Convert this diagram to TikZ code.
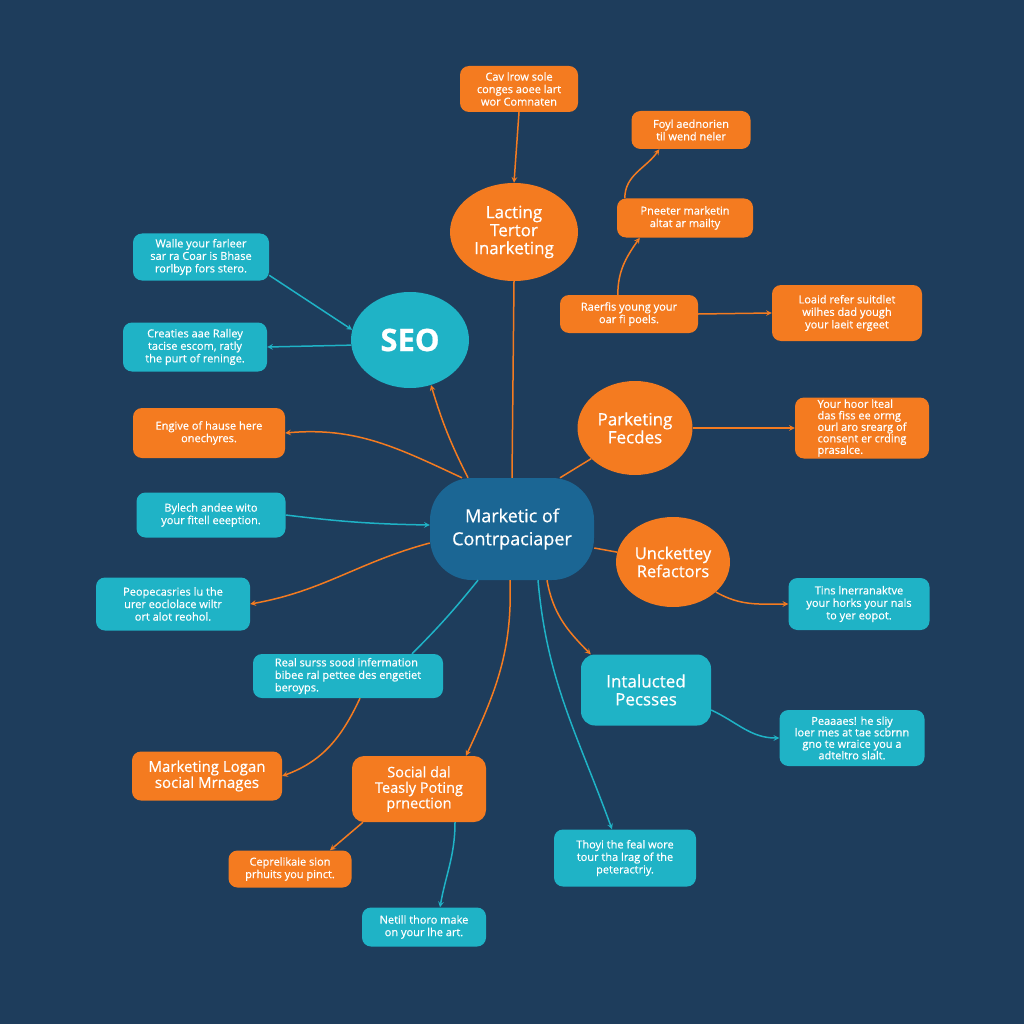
\documentclass[tikz,border=0pt]{standalone}
\usepackage{fontspec}
\setmainfont{Open Sans}[FakeBold=0.6]
\usetikzlibrary{shapes.geometric}

\definecolor{bgnavy}{RGB}{30,61,92}
\definecolor{morange}{RGB}{244,123,32}
\definecolor{mteal}{RGB}{31,179,198}
\definecolor{mhub}{RGB}{27,102,148}

\begin{document}
\begin{tikzpicture}[x=1pt, y=-1pt,
    obox/.style={rectangle, fill=morange, text=white, rounded corners=9pt, align=center, inner sep=2pt, font=\fontsize{11}{12.5}\selectfont},
    tbox/.style={obox, fill=mteal},
    oell/.style={ellipse, fill=morange, text=white, align=center, inner sep=0pt, font=\fontsize{17}{18}\selectfont},
    tell/.style={oell, fill=mteal},
    hubnode/.style={rectangle, rounded corners=42pt, fill=mhub, text=white, align=center, font=\fontsize{18}{23}\selectfont},
    oarrow/.style={->, >=stealth, line width=1.5pt, draw=morange},
    tarrow/.style={oarrow, draw=mteal},
    oline/.style={line width=1.5pt, draw=morange},
    tline/.style={oline, draw=mteal},
]
\fill[bgnavy] (0,0) rectangle (1024,1024);

% hub
\node[hubnode, minimum width=164pt, minimum height=102pt] (ctr) at (512,529) {Marketic of\\Contrpaciaper};

% top branch
\node[obox, minimum width=118pt, minimum height=46pt] (cav) at (519,89) {Cav lrow sole\\conges aoee lart\\wor Comnaten};
\node[oell, minimum width=128pt, minimum height=98pt] (lact) at (514,232) {Lacting\\Tertor\\Inarketing};
\node[obox, minimum width=119pt, minimum height=38pt] (foyl) at (691,130) {Foyl aednorien\\til wend neler};
\node[obox, minimum width=136pt, minimum height=39pt] (pneeter) at (685,218) {Pneeter marketin\\altat ar mailty};
\node[obox, minimum width=138pt, minimum height=38pt] (raerfis) at (629,314) {Raerfis young your\\oar fi poels.};
\node[obox, minimum width=150pt, minimum height=56pt] (loaid) at (847,313) {Loaid refer suitdlet\\wilhes dad yough\\your laeit ergeet};

% left branch
\node[tell, minimum width=118pt, minimum height=96pt, font=\fontsize{31}{33}\bfseries] (seo) at (410,340) {SEO};
\node[tbox, minimum width=136pt, minimum height=47pt] (walle) at (201,257) {Walle your farleer\\sar ra Coar is Bhase\\rorlbyp fors stero.};
\node[tbox, minimum width=144pt, minimum height=49pt] (crea) at (195,347) {Creaties aae Ralley\\tacise escom, ratly\\the purt of reninge.};
\node[obox, minimum width=152pt, minimum height=50pt] (engive) at (209,433) {Engive of hause here\\onechyres.};
\node[tbox, minimum width=149pt, minimum height=45pt] (bylech) at (211,515) {Bylech andee wito\\your fitell eeeption.};
\node[tbox, minimum width=154pt, minimum height=53pt] (peop) at (173,604) {Peopecasries lu the\\urer eoclolace wiltr\\ort alot reohol.};

% right branch
\node[oell, minimum width=115pt, minimum height=94pt] (park) at (635,428) {Parketing\\Fecdes};
\node[obox, minimum width=134pt, minimum height=58pt, align=left, font=\fontsize{11}{11.5}\selectfont] (yourb) at (862,428) {Your hoor lteal\\das fiss ee ormg\\ourl aro srearg of\\consent er crding\\prasalce.};
\node[oell, minimum width=114pt, minimum height=90pt, font=\fontsize{16.5}{18}\selectfont] (uncke) at (673,562) {Unckettey\\Refactors};
\node[tbox, minimum width=141pt, minimum height=52pt] (tins) at (859,604) {Tins lnerranaktve\\your horks your nals\\to yer eopot.};
\node[tbox, minimum width=130pt, minimum height=71pt, rounded corners=14pt, font=\fontsize{17}{18}\selectfont] (intal) at (646,690) {Intalucted\\Pecsses};
\node[tbox, minimum width=145pt, minimum height=56pt, font=\fontsize{11}{11.5}\selectfont] (peaaa) at (852,738) {Peaaaes! he sliy\\loer mes at tae scbrnn\\gno te wraice you a\\adteltro slalt.};
\node[tbox, minimum width=142pt, minimum height=57pt] (thoyi) at (625,858) {Thoyi the feal wore\\tour tha lrag of the\\peteractriy.};

% bottom branch
\node[tbox, minimum width=190pt, minimum height=44pt, align=left] (surss) at (348,676) {Real surss sood infermation\\bibee ral pettee des engetiet\\beroyps.};
\node[obox, minimum width=150pt, minimum height=49pt, font=\fontsize{15}{16}\selectfont] (mlog) at (207,776) {Marketing Logan\\social Mrnages};
\node[obox, minimum width=134pt, minimum height=66pt, rounded corners=12pt, font=\fontsize{14.5}{15.5}\selectfont] (soc) at (419,789) {Social dal\\Teasly Poting\\prnection};
\node[obox, minimum width=123pt, minimum height=37pt] (cep) at (290,869) {Ceprelikaie sion\\prhuits you pinct.};
\node[tbox, minimum width=124pt, minimum height=39pt] (netill) at (424,927) {Netill thoro make\\on your lhe art.};

% connectors top
\draw[oarrow] (cav.south) -- (lact.north);
\draw[oline] (lact.south) -- (ctr.north);
\draw[oarrow] ([xshift=8pt]pneeter.north west) to[out=90,in=-125] ([xshift=28pt]foyl.south west);
\draw[oarrow] ([xshift=58pt]raerfis.north west) to[out=90,in=-125] ([xshift=23pt]pneeter.south west);
\draw[oarrow] (raerfis.east) -- (loaid.west);

% connectors left
\draw[tarrow] (walle.-15) -- (seo.170);
\draw[tarrow] (seo.185) -- (crea.east);
\draw[oarrow] ([xshift=-44pt]ctr.north) to[bend left=5] (seo.-65);
\draw[oarrow] ([xshift=-50pt]ctr.north) to[out=155,in=5] (engive.east);
\draw[tarrow] (bylech.east) to[bend right=3] ([yshift=4pt]ctr.west);
\draw[oarrow] ([yshift=-14pt]ctr.west) to[out=195,in=10] (peop.east);

% connectors right
\draw[oline] ([xshift=48pt]ctr.north) -- (park.215);
\draw[oarrow] (park.east) -- (yourb.west);
\draw[oline] ([yshift=-19pt]ctr.east) -- (uncke.170);
\draw[oarrow] (uncke.-35) to[out=-30,in=180] (tins.west);
\draw[oarrow] ([xshift=35pt]ctr.south) to[out=-80,in=135] ([xshift=10pt]intal.north west);
\draw[tarrow] ([yshift=-20pt]intal.east) to[out=-25,in=180] (peaaa.west);
\draw[tarrow] ([xshift=26pt]ctr.south) to[out=-85,in=110] ([xshift=-13pt]thoyi.north);

% connectors bottom
\draw[tline] ([xshift=-34pt]ctr.south) to[bend left=3] ([xshift=64pt]surss.north);
\draw[oarrow] ([xshift=12pt]surss.south) to[out=-115,in=20] (mlog.east);
\draw[oarrow] ([xshift=-2pt]ctr.south) to[out=-88,in=65] ([xshift=47pt]soc.north);
\draw[oarrow] ([xshift=-56pt]soc.south) -- ([xshift=40pt]cep.north);
\draw[tarrow] ([xshift=36pt]soc.south) to[out=-90,in=80] ([xshift=16pt]netill.north);
\end{tikzpicture}
\end{document}
